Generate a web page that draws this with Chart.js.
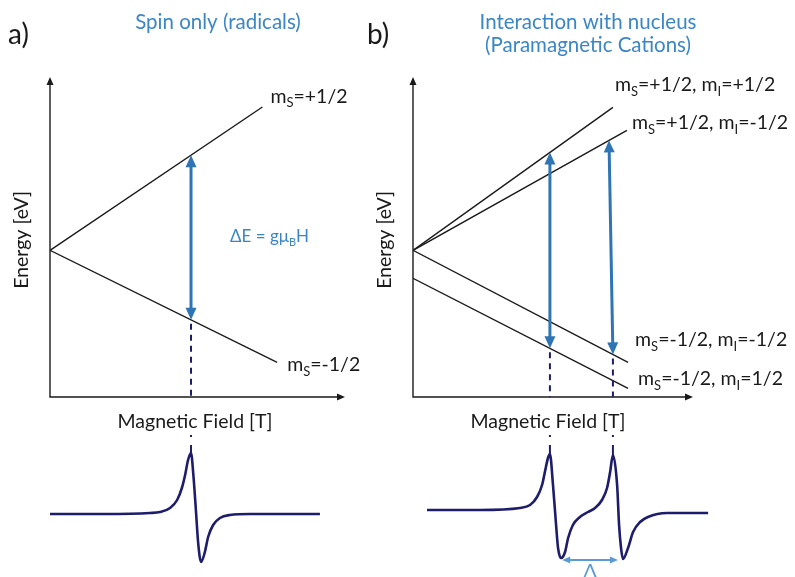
<!DOCTYPE html>
<html>
<head>
<meta charset="utf-8">
<script src="https://cdn.jsdelivr.net/npm/chart.js@4.4.1/dist/chart.umd.min.js"></script>
<style>
    html, body { margin: 0; padding: 0; background: #fff; }
    #wrap { position: relative; width: 795px; height: 577px; overflow: hidden; }
    #wrap canvas { position: absolute; }
</style>
</head>
<body>
<div id="wrap">
    <canvas id="levels-a" width="370" height="440" style="left:0px;top:0px"></canvas>
    <canvas id="signal-a" width="370" height="147" style="left:0px;top:430px"></canvas>
    <canvas id="levels-b" width="435" height="440" style="left:360px;top:0px"></canvas>
    <canvas id="signal-b" width="435" height="147" style="left:360px;top:430px"></canvas>
</div>
<script>
const FONT = 'Lato, "Open Sans", sans-serif';
const BLACK = '#1a1a1a';
const NAVY = '#1d1d6b';
const ARROW_BLUE = '#2f75b5';
const TEXT_BLUE = '#3a86c6';
const LIGHT_BLUE = '#5b9bd5';

// field and energy in arbitrary units
const FIELD_RANGE = [0, 10];
const ENERGY_RANGE = [-4.4, 5.2];
const SIGNAL_RANGE = [-1.12, 1.48];

// a) electron spin only
const spinUpA = [{x: 0, y: 0}, {x: 7.2, y: 4.3}];
const spinDownA = [{x: 0, y: 0}, {x: 7.7, y: -3.36}];
const levelLabelsA = ['m_S=+1/2', 'm_S=-1/2'];
const resonanceA = [4.78];

// b) spin coupled to a nucleus with I = 1/2
const upUpB = [{x: 0, y: 0}, {x: 7.14, y: 4.29}];
const upDownB = [{x: 0, y: 0}, {x: 7.64, y: 3.6}];
const downDownB = [{x: 0, y: 0}, {x: 7.68, y: -3.36}];
const downUpB = [{x: 0, y: -0.84}, {x: 7.68, y: -4.14}];
const levelLabelsB = ['m_S=+1/2, m_I=+1/2', 'm_S=+1/2, m_I=-1/2', 'm_S=-1/2, m_I=-1/2', 'm_S=-1/2, m_I=1/2'];
// field of each transition at its upper and lower level
const transitionFromB = [4.89, 7.0];
const transitionToB = [4.89, 7.14];

// first-derivative absorption signals
const signalFieldA = [0, 1.86, 3.39, 3.73, 4.07, 4.31, 4.47, 4.58, 4.68, 4.78, 4.86, 4.95, 5.02, 5.12, 5.25, 5.36, 5.53, 5.76, 6.1, 6.78, 9.15];
const signalA = [0, 0, 0.02, 0.04, 0.12, 0.28, 0.52, 0.78, 1.08, 1.22, 0.78, 0.04, -0.56, -0.96, -0.76, -0.46, -0.22, -0.08, -0.02, 0, 0];

const signalFieldB = [0.5, 2.39, 3.82, 4.18, 4.43, 4.61, 4.71, 4.82, 4.89, 5.0, 5.11, 5.18, 5.29, 5.43, 5.54, 5.71, 5.96, 6.25, 6.5, 6.75, 6.93, 7.04, 7.14, 7.29, 7.36, 7.43, 7.5, 7.68, 7.86, 8.11, 8.39, 9.07, 10.54];
const signalB = [0.08, 0.08, 0.12, 0.18, 0.34, 0.58, 0.84, 1.12, 1.2, 0.58, -0.22, -0.68, -0.88, -0.76, -0.48, -0.22, -0.06, 0.04, 0.12, 0.28, 0.52, 0.84, 1.18, 0.58, -0.22, -0.68, -0.9, -0.68, -0.36, -0.16, -0.06, 0.02, 0.02];
const hyperfineB = [5.33, 7.32];
const hyperfineLevelB = -0.92;

function levelAt(line, x) {
    const [p0, p1] = line;
    return p0.y + (p1.y - p0.y) * (x - p0.x) / (p1.x - p0.x);
}

// "_X" marks a one-letter subscript
function drawRichText(ctx, text, x, y, size, align) {
    const parts = text.split(/_(\w)/);
    const fontFor = (i) => `${i % 2 ? Math.round(size * 0.66) : size}px ${FONT}`;
    let total = 0;
    parts.forEach((part, i) => {
        ctx.font = fontFor(i);
        total += ctx.measureText(part).width;
    });
    let cx = align === 'center' ? x - total / 2 : x;
    ctx.textAlign = 'left';
    ctx.textBaseline = 'alphabetic';
    parts.forEach((part, i) => {
        ctx.font = fontFor(i);
        ctx.fillText(part, cx, i % 2 ? y + size * 0.22 : y);
        cx += ctx.measureText(part).width;
    });
}

function arrowHead(ctx, x0, y0, x1, y1, len, half) {
    const a = Math.atan2(y1 - y0, x1 - x0);
    const c = Math.cos(a), s = Math.sin(a);
    ctx.beginPath();
    ctx.moveTo(x1, y1);
    ctx.lineTo(x1 - len * c + half * s, y1 - len * s - half * c);
    ctx.lineTo(x1 - len * c - half * s, y1 - len * s + half * c);
    ctx.closePath();
    ctx.fill();
}

function doubleArrow(ctx, x0, y0, x1, y1, color, width, len, half) {
    const d = Math.hypot(x1 - x0, y1 - y0);
    const ux = (x1 - x0) / d, uy = (y1 - y0) / d;
    ctx.save();
    ctx.strokeStyle = color;
    ctx.fillStyle = color;
    ctx.lineWidth = width;
    ctx.beginPath();
    ctx.moveTo(x0 + ux * len * 0.8, y0 + uy * len * 0.8);
    ctx.lineTo(x1 - ux * len * 0.8, y1 - uy * len * 0.8);
    ctx.stroke();
    arrowHead(ctx, x1, y1, x0, y0, len, half);
    arrowHead(ctx, x0, y0, x1, y1, len, half);
    ctx.restore();
}

class EprFigure {
    constructor() {
        this.init();
    }

    init() {
        this.initLevelsA();
        this.initLevelsB();
        this.initSignal('signal-a', signalFieldA, signalA, {left: 50, right: 25}, {
            peaks: resonanceA,
        });
        this.initSignal('signal-b', signalFieldB, signalB, {left: 53, right: 102}, {
            peaks: transitionToB,
            hyperfine: hyperfineB,
        });
    }

    lineSet(points) {
        return {
            data: points,
            showLine: true,
            borderColor: BLACK,
            borderWidth: 1.4,
            pointRadius: 0,
            tension: 0,
        };
    }

    baseOptions(padding, yRange) {
        return {
            responsive: false,
            animation: false,
            events: [],
            layout: {padding},
            plugins: {legend: {display: false}, tooltip: {enabled: false}},
            scales: {
                x: {type: 'linear', display: false, min: FIELD_RANGE[0], max: FIELD_RANGE[1]},
                y: {type: 'linear', display: false, min: yRange[0], max: yRange[1]},
            },
        };
    }

    // axes, axis titles, headings and level labels around an energy diagram
    frame(chart, opts) {
        const {ctx, chartArea: {left, right, top, bottom}} = chart;
        ctx.save();
        ctx.strokeStyle = BLACK;
        ctx.fillStyle = BLACK;
        ctx.lineWidth = 1.4;
        ctx.beginPath();
        ctx.moveTo(left, top + 6);
        ctx.lineTo(left, bottom);
        ctx.lineTo(right - 6, bottom);
        ctx.stroke();
        arrowHead(ctx, left, bottom, left, top, 8, 3.5);
        arrowHead(ctx, left, bottom, right, bottom, 8, 3.5);

        ctx.fillStyle = BLACK;
        ctx.font = `19.5px ${FONT}`;
        ctx.textAlign = 'center';
        ctx.textBaseline = 'middle';
        ctx.fillText('Magnetic Field [T]', opts.fieldTitleX, 422);
        ctx.save();
        ctx.translate(left - 28, 240);
        ctx.rotate(-Math.PI / 2);
        ctx.fillText('Energy [eV]', 0, 0);
        ctx.restore();

        ctx.font = `28px ${FONT}`;
        ctx.textAlign = 'left';
        ctx.textBaseline = 'alphabetic';
        ctx.fillText(opts.letter, opts.letterX, 44);

        ctx.fillStyle = TEXT_BLUE;
        ctx.font = `20.5px ${FONT}`;
        ctx.textAlign = 'center';
        ctx.textBaseline = 'middle';
        opts.title.forEach((line, i) => ctx.fillText(line, opts.titleX, 22 + i * 23));

        ctx.fillStyle = BLACK;
        const xs = chart.scales.x, ys = chart.scales.y;
        opts.levels.forEach((line, i) => {
            const end = line[line.length - 1];
            const [dx, dy] = opts.labelOffsets[i];
            drawRichText(ctx, opts.labels[i], xs.getPixelForValue(end.x) + dx,
                ys.getPixelForValue(end.y) + dy + 6, 19.5, 'left');
        });
        ctx.restore();
    }

    // allowed transitions plus the dashed drop to the field axis
    transitions(chart, list) {
        const {ctx, chartArea: {bottom}} = chart;
        const xs = chart.scales.x, ys = chart.scales.y;
        list.forEach(t => {
            const x0 = xs.getPixelForValue(t.fromX), y0 = ys.getPixelForValue(levelAt(t.from, t.fromX));
            const x1 = xs.getPixelForValue(t.toX), y1 = ys.getPixelForValue(levelAt(t.to, t.toX));
            ctx.save();
            ctx.strokeStyle = NAVY;
            ctx.lineWidth = 2;
            ctx.setLineDash([6, 5]);
            ctx.beginPath();
            ctx.moveTo(x1, y1 + 4);
            ctx.lineTo(x1, bottom);
            ctx.stroke();
            ctx.restore();
            doubleArrow(ctx, x0, y0, x1, y1, ARROW_BLUE, 3, 12, 5.5);
        });
    }

    initLevelsA() {
        const self = this;
        new Chart(document.getElementById('levels-a'), {
            type: 'scatter',
            data: {datasets: [spinUpA, spinDownA].map(l => this.lineSet(l))},
            options: this.baseOptions({left: 50, right: 25, top: 77, bottom: 43}, ENERGY_RANGE),
            plugins: [{
                id: 'diagramA',
                afterDatasetsDraw(chart) {
                    self.frame(chart, {
                        letter: 'a)', letterX: 8,
                        title: ['Spin only (radicals)'], titleX: 218,
                        fieldTitleX: 195,
                        levels: [spinUpA, spinDownA],
                        labels: levelLabelsA,
                        labelOffsets: [[8, -10], [10, 3]],
                    });
                    self.transitions(chart, [{from: spinUpA, to: spinDownA, fromX: resonanceA[0], toX: resonanceA[0]}]);
                    const {ctx} = chart;
                    ctx.save();
                    ctx.fillStyle = TEXT_BLUE;
                    drawRichText(ctx, 'ΔE = gμ_BH', 230, 242, 17, 'left');
                    ctx.restore();
                }
            }]
        });
    }

    initLevelsB() {
        const self = this;
        const levels = [upUpB, upDownB, downDownB, downUpB];
        new Chart(document.getElementById('levels-b'), {
            type: 'scatter',
            data: {datasets: levels.map(l => this.lineSet(l))},
            options: this.baseOptions({left: 53, right: 102, top: 77, bottom: 43}, ENERGY_RANGE),
            plugins: [{
                id: 'diagramB',
                afterDatasetsDraw(chart) {
                    self.frame(chart, {
                        letter: 'b)', letterX: 7,
                        title: ['Interaction with nucleus', '(Paramagnetic Cations)'], titleX: 228,
                        fieldTitleX: 188,
                        levels,
                        labels: levelLabelsB,
                        labelOffsets: [[2, -22], [5, -7], [7, -22], [10, -9]],
                    });
                    self.transitions(chart, [
                        {from: upUpB, to: downUpB, fromX: transitionFromB[0], toX: transitionToB[0]},
                        {from: upDownB, to: downDownB, fromX: transitionFromB[1], toX: transitionToB[1]},
                    ]);
                }
            }]
        });
    }

    initSignal(id, fields, values, padding, marks) {
        new Chart(document.getElementById(id), {
            type: 'scatter',
            data: {
                datasets: [{
                    data: fields.map((x, i) => ({x, y: values[i]})),
                    showLine: true,
                    borderColor: NAVY,
                    borderWidth: 2.6,
                    pointRadius: 0,
                    cubicInterpolationMode: 'monotone',
                    clip: false,
                }]
            },
            options: this.baseOptions({...padding, top: 10, bottom: 7}, SIGNAL_RANGE),
            plugins: [{
                id: id + '-marks',
                afterDatasetsDraw(chart) {
                    const {ctx} = chart;
                    const xs = chart.scales.x, ys = chart.scales.y;
                    ctx.save();
                    ctx.strokeStyle = NAVY;
                    ctx.lineWidth = 2;
                    ctx.setLineDash([2, 8, 12, 100]);
                    marks.peaks.forEach(f => {
                        const x = xs.getPixelForValue(f);
                        ctx.beginPath();
                        ctx.moveTo(x, 5);
                        ctx.lineTo(x, 27);
                        ctx.stroke();
                    });
                    ctx.restore();
                    if (marks.hyperfine) {
                        const y = ys.getPixelForValue(hyperfineLevelB);
                        const x0 = xs.getPixelForValue(marks.hyperfine[0]);
                        const x1 = xs.getPixelForValue(marks.hyperfine[1]);
                        doubleArrow(ctx, x0, y, x1, y, LIGHT_BLUE, 2, 8, 3.5);
                        ctx.save();
                        ctx.fillStyle = LIGHT_BLUE;
                        ctx.font = `21px ${FONT}`;
                        ctx.textAlign = 'center';
                        ctx.textBaseline = 'top';
                        ctx.fillText('Δ', (x0 + x1) / 2, y + 2);
                        ctx.restore();
                    }
                }
            }]
        });
    }
}

new EprFigure();
</script>
</body>
</html>
